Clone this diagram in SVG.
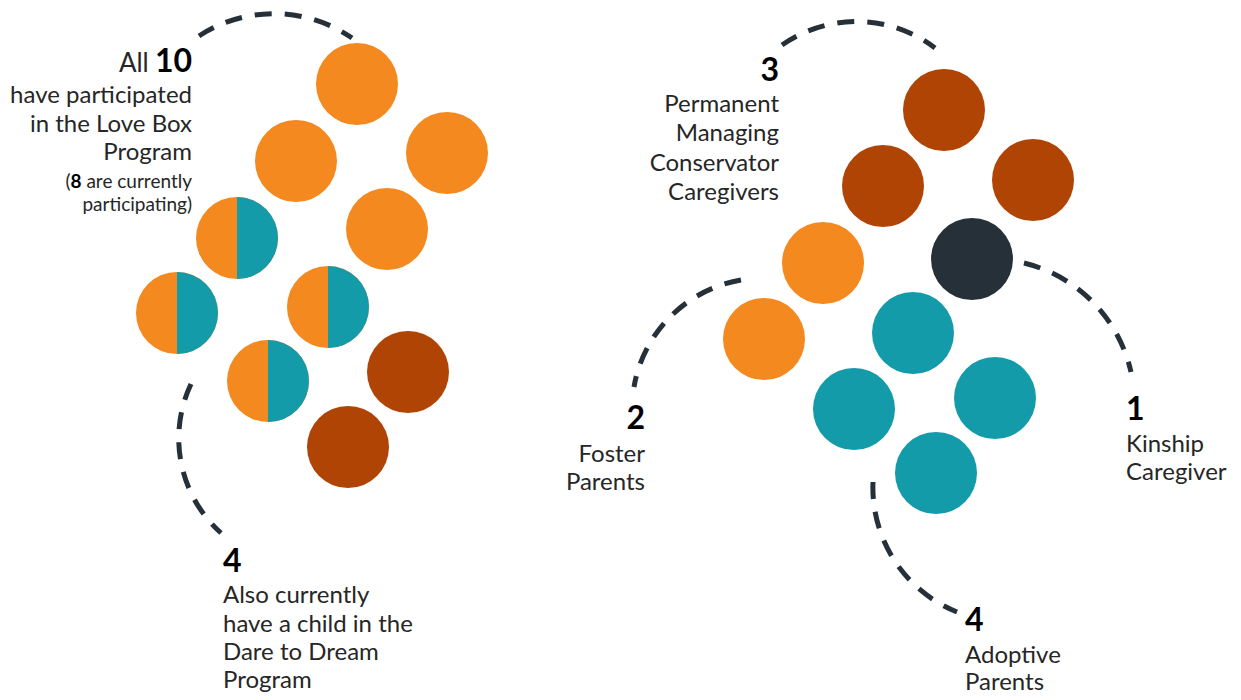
<svg xmlns="http://www.w3.org/2000/svg" width="1241" height="700" viewBox="0 0 1241 700">
<style>
.or{fill:#F3891F}.te{fill:#149BAA}.dk{fill:#B04405}.nv{fill:#263039}
.arc{fill:none;stroke:#263039;stroke-width:5;stroke-dasharray:17 13}
text{font-family:Lato,"Liberation Sans",sans-serif;fill:#262626;font-size:24px}
.num{font-weight:bold;fill:#000;font-size:32px}
.sm{font-size:19px}
.r{text-anchor:end}
</style>
<rect width="1241" height="700" fill="#fff"/>
<defs>
<g id="half"><circle r="41" class="or"/><path d="M0,-41 A41,41 0 0 1 0,41 Z" class="te"/></g>
</defs>
<g id="connectors">
<path class="arc" d="M199,36 A137,137 0 0 1 352,38"/>
<path class="arc" d="M191,384 A127,127 0 0 0 221,533"/>
<path class="arc" d="M782,45 A130,130 0 0 1 935,48"/>
<path class="arc" d="M741,280 A131,131 0 0 0 634,387"/>
<path class="arc" d="M1024,263 A145,145 0 0 1 1131,372"/>
<path class="arc" d="M873,482 A134,134 0 0 0 957,612"/>
</g>
<g id="left-cluster">
<circle cx="357" cy="84" r="41" class="or"/>
<circle cx="296" cy="161" r="41" class="or"/>
<circle cx="447" cy="153" r="41" class="or"/>
<circle cx="387" cy="229" r="41" class="or"/>
<use href="#half" x="237" y="238"/>
<use href="#half" x="177" y="313"/>
<use href="#half" x="328" y="307"/>
<use href="#half" x="268" y="381"/>
<circle cx="408" cy="372" r="41" class="dk"/>
<circle cx="348" cy="447" r="41" class="dk"/>
</g>
<g id="right-cluster">
<circle cx="944" cy="110" r="41" class="dk"/>
<circle cx="883" cy="186" r="41" class="dk"/>
<circle cx="1033" cy="180" r="41" class="dk"/>
<circle cx="972" cy="259" r="41" class="nv"/>
<circle cx="823" cy="263" r="41" class="or"/>
<circle cx="764" cy="339" r="41" class="or"/>
<circle cx="913" cy="333" r="41" class="te"/>
<circle cx="854" cy="409" r="41" class="te"/>
<circle cx="995" cy="398" r="41" class="te"/>
<circle cx="936" cy="473" r="41" class="te"/>
</g>
<g id="label-all10">
<text x="192" y="72" class="r"><tspan font-size="26">All</tspan> <tspan class="num">10</tspan></text>
<text x="192" y="103" class="r">have participated</text>
<text x="192" y="132" class="r">in the Love Box</text>
<text x="192" y="160" class="r">Program</text>
<text x="192" y="188" class="r sm">(<tspan font-weight="bold" fill="#000">8</tspan> are currently</text>
<text x="192" y="211" class="r sm">participating)</text>
</g>
<g id="label-dare">
<text x="223" y="572" class="num">4</text>
<text x="223" y="603">Also currently</text>
<text x="223" y="632">have a child in the</text>
<text x="223" y="660">Dare to Dream</text>
<text x="223" y="688">Program</text>
</g>
<g id="label-pmc">
<text x="779" y="81" class="num r">3</text>
<text x="779" y="112" class="r">Permanent</text>
<text x="779" y="141" class="r">Managing</text>
<text x="779" y="171" class="r">Conservator</text>
<text x="779" y="200" class="r">Caregivers</text>
</g>
<g id="label-foster">
<text x="645" y="429" class="num r">2</text>
<text x="645" y="462" class="r">Foster</text>
<text x="645" y="490" class="r">Parents</text>
</g>
<g id="label-kinship">
<text x="1126" y="420" class="num">1</text>
<text x="1126" y="452">Kinship</text>
<text x="1126" y="480">Caregiver</text>
</g>
<g id="label-adoptive">
<text x="965" y="631" class="num">4</text>
<text x="965" y="663">Adoptive</text>
<text x="965" y="690">Parents</text>
</g>
</svg>
